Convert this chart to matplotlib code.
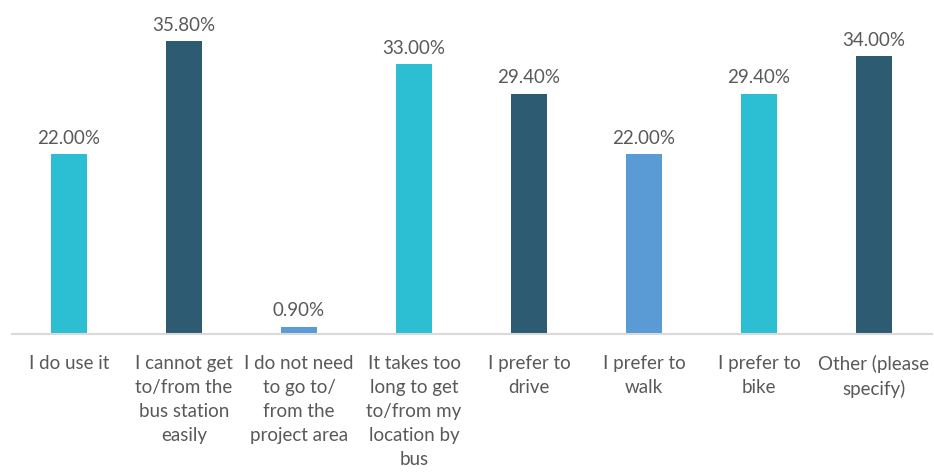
import matplotlib
matplotlib.use("Agg")
import matplotlib.pyplot as plt

categories = [
    "I do use it",
    "I cannot get\nto/from the\nbus station\neasily",
    "I do not need\nto go to/\nfrom the\nproject area",
    "It takes too\nlong to get\nto/from my\nlocation by\nbus",
    "I prefer to\ndrive",
    "I prefer to\nwalk",
    "I prefer to\nbike",
    "Other (please\nspecify)",
]
values = [22.0, 35.8, 0.9, 33.0, 29.4, 22.0, 29.4, 34.0]
colors = ["#2CBFD4", "#2C5B72", "#5B9BD5", "#2CBFD4", "#2C5B72", "#5B9BD5", "#2CBFD4", "#2C5B72"]

plt.rcParams['font.family'] = ['Lato', 'DejaVu Sans']
text_color = "#595959"

fig = plt.figure(figsize=(9.34, 4.76), dpi=100)
ax = fig.add_axes([11.5 / 934, 142 / 476, 920 / 934, 327 / 476])

x = list(range(len(values)))
bars = ax.bar(x, values, width=0.31, color=colors)

for xi, v in zip(x, values):
    ax.text(xi, v + 0.9, f"{v:.2f}%", ha='center', va='bottom',
            fontsize=13.5, color=text_color)

ax.set_xlim(-0.5, len(values) - 0.5)
ax.set_ylim(0, 40)
ax.set_xticks(x)
ax.set_xticklabels(categories, fontsize=13.5, color=text_color, linespacing=1.5)
ax.tick_params(axis='x', length=0, pad=15)
ax.set_yticks([])

for s in ['top', 'right', 'left']:
    ax.spines[s].set_visible(False)
ax.spines['bottom'].set_color('#D9D9D9')
ax.spines['bottom'].set_linewidth(1.5)

fig.savefig("out.png", dpi=100)
